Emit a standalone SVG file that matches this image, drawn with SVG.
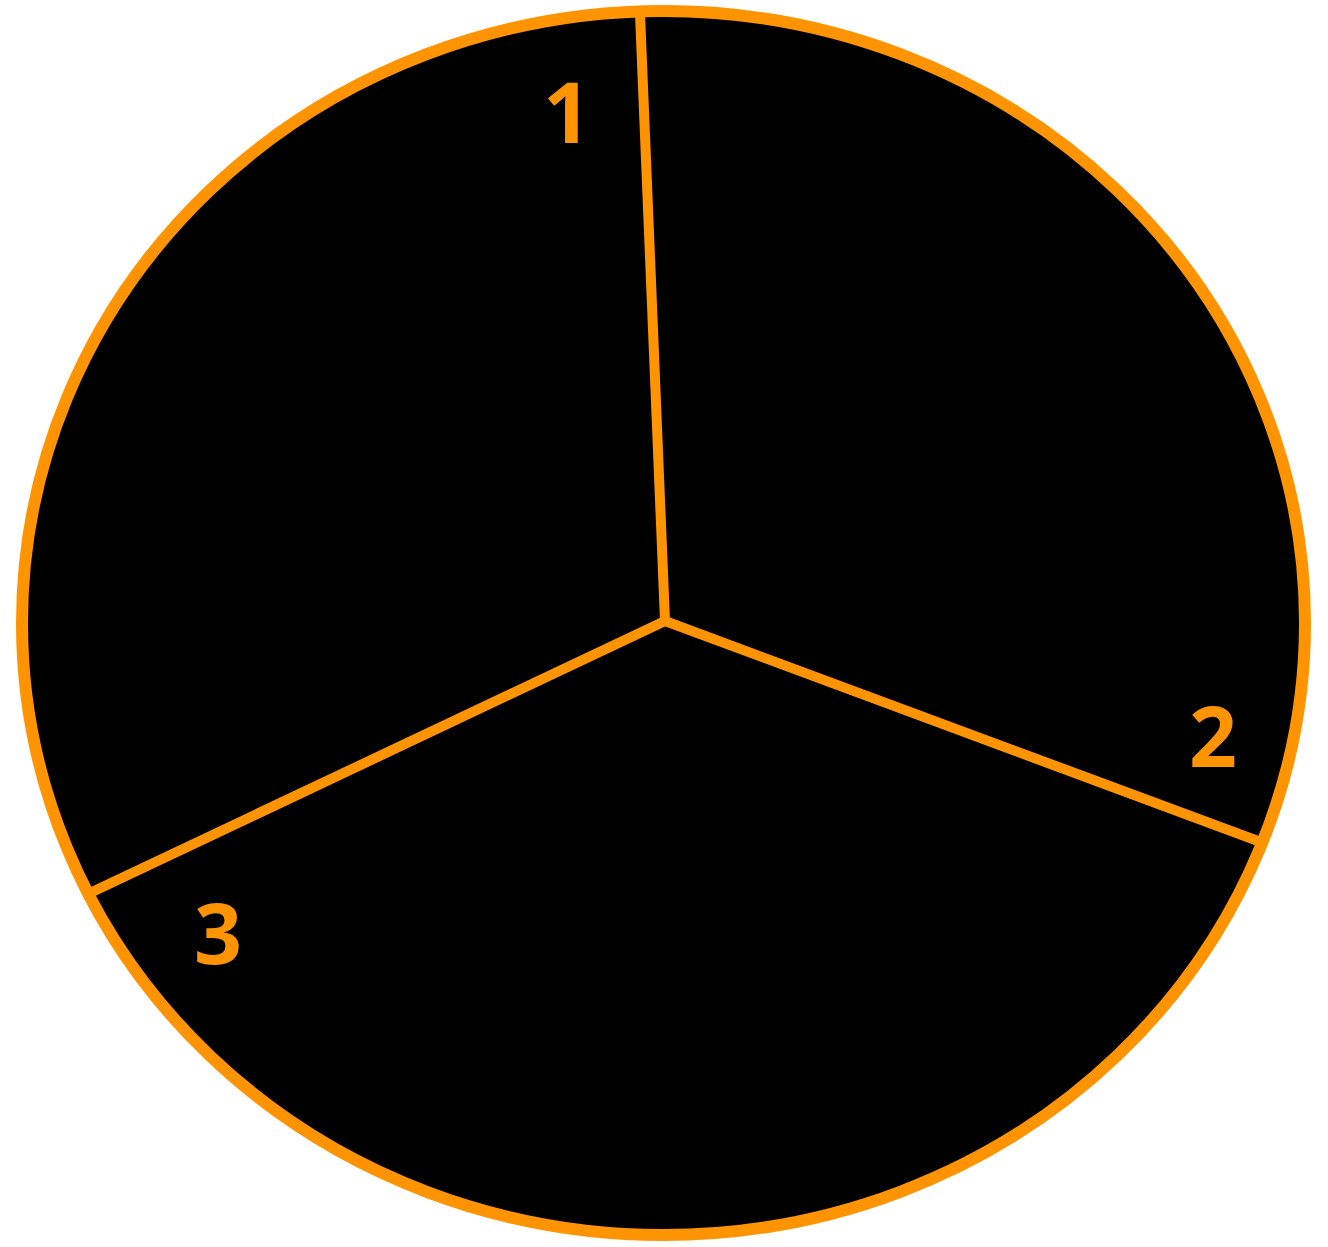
<svg xmlns="http://www.w3.org/2000/svg" width="1328" height="1247" viewBox="0 0 1328 1247">
<style>
.lbl{font-family:"Open Sans","DejaVu Sans",sans-serif;font-weight:bold;font-size:84px;fill:#FF9400;text-anchor:middle}
.div{stroke:#FF9400;stroke-width:10;fill:none;stroke-linecap:butt}
</style>
<rect width="1328" height="1247" fill="#ffffff"/>
<g id="disc">
<ellipse cx="663.5" cy="623" rx="641.5" ry="612" fill="#000000" stroke="#FF9400" stroke-width="12"/>
</g>
<g id="connectors">
<line class="div" x1="665" y1="621" x2="640" y2="14"/>
<line class="div" x1="665" y1="621" x2="1258" y2="841"/>
<line class="div" x1="665" y1="621" x2="92" y2="892"/>
</g>
<g id="label1"><text class="lbl" x="567" y="143">1</text></g>
<g id="label2"><text class="lbl" x="1213" y="767">2</text></g>
<g id="label3"><text class="lbl" x="218" y="964">3</text></g>
</svg>
